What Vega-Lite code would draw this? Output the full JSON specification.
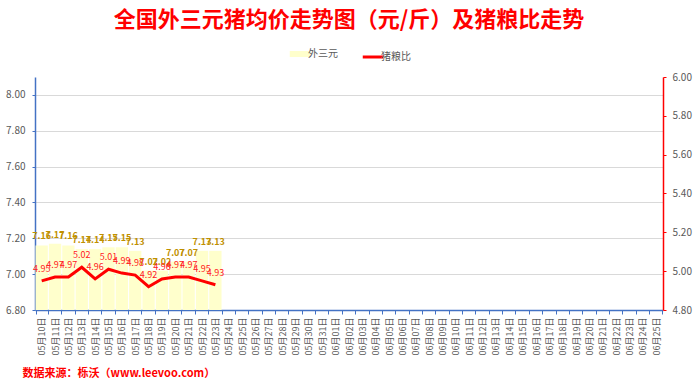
{
  "$schema": "https://vega.github.io/schema/vega-lite/v6.json",
  "width": 628,
  "height": 233,
  "autosize": {"type": "none"},
  "padding": {"left": 35, "top": 77, "right": 37, "bottom": 79},
  "background": "white",
  "title": {
    "text": "全国外三元猪均价走势图（元/斤）及猪粮比走势",
    "font": "Noto Sans CJK SC",
    "fontSize": 22,
    "fontWeight": "bold",
    "color": "#FF0000",
    "anchor": "middle",
    "frame": "group",
    "offset": 17
  },
  "config": {
    "font": "Noto Sans CJK SC",
    "view": {"stroke": null}
  },
  "data": {
    "values": [
      {"date": "05月10日", "price": 7.16, "ratio": 4.95},
      {"date": "05月11日", "price": 7.17, "ratio": 4.97},
      {"date": "05月12日", "price": 7.16, "ratio": 4.97},
      {"date": "05月13日", "price": 7.14, "ratio": 5.02},
      {"date": "05月14日", "price": 7.14, "ratio": 4.96},
      {"date": "05月15日", "price": 7.15, "ratio": 5.01},
      {"date": "05月16日", "price": 7.15, "ratio": 4.99},
      {"date": "05月17日", "price": 7.13, "ratio": 4.98},
      {"date": "05月18日", "price": 7.02, "ratio": 4.92},
      {"date": "05月19日", "price": 7.02, "ratio": 4.96},
      {"date": "05月20日", "price": 7.07, "ratio": 4.97},
      {"date": "05月21日", "price": 7.07, "ratio": 4.97},
      {"date": "05月22日", "price": 7.13, "ratio": 4.95},
      {"date": "05月23日", "price": 7.13, "ratio": 4.93}
    ]
  },
  "encoding": {
    "x": {
      "field": "date",
      "type": "nominal",
      "sort": null,
      "scale": {
        "domain": ["05月10日","05月11日","05月12日","05月13日","05月14日","05月15日","05月16日","05月17日","05月18日","05月19日","05月20日","05月21日","05月22日","05月23日","05月24日","05月25日","05月26日","05月27日","05月28日","05月29日","05月30日","05月31日","06月01日","06月02日","06月03日","06月04日","06月05日","06月06日","06月07日","06月08日","06月09日","06月10日","06月11日","06月12日","06月13日","06月14日","06月15日","06月16日","06月17日","06月18日","06月19日","06月20日","06月21日","06月22日","06月23日","06月24日","06月25日"],
        "paddingInner": 0.08,
        "paddingOuter": 0.04
      },
      "axis": {
        "title": "数据来源：栎沃（www.leevoo.com）",
        "titleColor": "#FF0000",
        "titleFontSize": 11,
        "titleFontWeight": "bold",
        "titleAnchor": "start",
        "titleAlign": "left",
        "titleBaseline": "middle",
        "titleX": -13,
        "titleY": 63,
        "labelAngle": -90,
        "labelFontSize": 9,
        "labelColor": "#595959",
        "labelPadding": 3,
        "labelOverlap": false,
        "domainColor": "#4472C4",
        "domainWidth": 1.5,
        "tickColor": "#4472C4",
        "tickSize": 4,
        "tickBand": "extent",
        "grid": false
      }
    }
  },
  "layer": [
    {
      "encoding": {
        "y": {
          "field": "price",
          "type": "quantitative",
          "scale": {"domain": [6.8, 8.1], "zero": false, "nice": false},
          "axis": {
            "title": null,
            "orient": "left",
            "values": [6.8, 7.0, 7.2, 7.4, 7.6, 7.8, 8.0],
            "format": ".2f",
            "labelFontSize": 10,
            "labelColor": "#595959",
            "labelPadding": 7,
            "labelOverlap": false,
            "labelFlush": false,
            "domainColor": "#4472C4",
            "domainWidth": 1.5,
            "tickColor": "#4472C4",
            "tickSize": 3,
            "grid": true,
            "gridColor": "#D9D9D9"
          }
        }
      },
      "layer": [
        {
          "mark": {"type": "bar"},
          "encoding": {
            "y2": {"datum": 6.8},
            "color": {
              "datum": "外三元",
              "scale": {"domain": ["外三元", "猪粮比"], "range": ["#FFFFCC", "#FF0000"]},
              "legend": {
                "orient": "none",
                "legendX": 260,
                "legendY": -28,
                "direction": "horizontal",
                "title": null,
                "symbolType": "stroke",
                "symbolSize": 420,
                "labelFontSize": 10,
                "labelColor": "#595959",
                "columnPadding": 18,
                "labelOffset": 3,
                "encode": {
                  "symbols": {
                    "update": {
                      "stroke": {"signal": "datum.value === '外三元' ? '#FFFFCC' : '#FF0000'"},
                      "strokeWidth": {"signal": "datum.value === '外三元' ? 6 : 3"}
                    }
                  }
                }
              }
            }
          }
        },
        {
          "mark": {"type": "text", "dy": -9, "fontSize": 9, "color": "#BF9000", "fontWeight": "bold"},
          "encoding": {
            "text": {"field": "price", "type": "quantitative", "format": ".2f"}
          }
        }
      ]
    },
    {
      "encoding": {
        "y": {
          "field": "ratio",
          "type": "quantitative",
          "scale": {"domain": [4.8, 6.0], "zero": false, "nice": false},
          "axis": {
            "title": null,
            "orient": "right",
            "values": [4.8, 5.0, 5.2, 5.4, 5.6, 5.8, 6.0],
            "format": ".2f",
            "labelFontSize": 10,
            "labelColor": "#595959",
            "labelPadding": 6,
            "labelOverlap": false,
            "labelFlush": false,
            "domainColor": "#FF0000",
            "domainWidth": 1.5,
            "tickColor": "#FF0000",
            "tickSize": 3,
            "grid": false
          }
        }
      },
      "layer": [
        {
          "mark": {"type": "line", "strokeWidth": 3, "color": "#FF0000"},
          "encoding": {
            "color": {"datum": "猪粮比"}
          }
        },
        {
          "mark": {"type": "text", "dy": -12, "fontSize": 9, "color": "#FF2020"},
          "encoding": {
            "text": {"field": "ratio", "type": "quantitative", "format": ".2f"}
          }
        }
      ]
    }
  ],
  "resolve": {"scale": {"y": "independent"}}
}
